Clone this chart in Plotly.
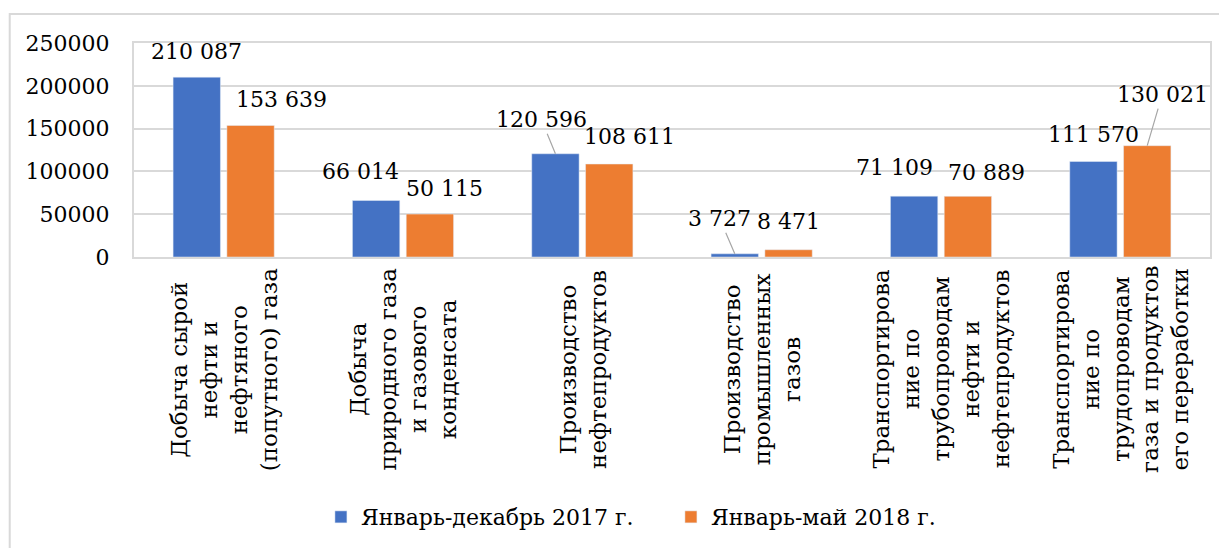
import plotly.graph_objects as go

categories = [
    "Добыча сырой<br>нефти и<br>нефтяного<br>(попутного) газа",
    "Добыча<br>природного газа<br>и газового<br>конденсата",
    "Производство<br>нефтепродуктов",
    "Производство<br>промышленных<br>газов",
    "Транспортирова<br>ние по<br>трубопроводам<br>нефти и<br>нефтепродуктов",
    "Транспортирова<br>ние по<br>трудопроводам<br>газа и продуктов<br>его переработки",
]
series_names = ["Январь-декабрь 2017 г.", "Январь-май 2018 г."]
values_2017 = [210087, 66014, 120596, 3727, 71109, 111570]
values_2018 = [153639, 50115, 108611, 8471, 70889, 130021]
y_ticks = [0, 50000, 100000, 150000, 200000, 250000]

# styling: label offsets (px) from bar top centre, and which use leader lines
off_2017 = [(0, 26), (-16, 29), (-14, 34), (-15, 35), (-20, 29), (0, 27)]
off_2018 = [(31, 26), (15, 26), (20, 28), (0, 28), (19, 24), (15, 51)]
lead_2017 = [False, False, True, True, False, False]
lead_2018 = [False, False, False, False, False, True]

BLUE = "#4472C4"
ORANGE = "#ED7D31"
GRID = "#d9d9d9"
FONT = "DejaVu Serif"
BARGAP = 0.40
BARGROUPGAP = 0.12

idx = list(range(len(categories)))

fig = go.Figure()
fig.add_trace(go.Bar(x=idx, y=values_2017, name=series_names[0], marker_color=BLUE))
fig.add_trace(go.Bar(x=idx, y=values_2018, name=series_names[1], marker_color=ORANGE))


def fmt(v):
    return f"{v:,}".replace(",", " ")


ann = []
half = (1 - BARGAP) / 4
for vals, offs, leads, sign in ((values_2017, off_2017, lead_2017, -1),
                                (values_2018, off_2018, lead_2018, 1)):
    for i, v in enumerate(vals):
        dx, dy = offs[i]
        xpos = i + sign * half
        if leads[i]:
            ann.append(dict(x=xpos, y=v, xref="x", yref="y", text=fmt(v),
                            showarrow=True, arrowhead=0, arrowwidth=1.2,
                            arrowcolor="#a6a6a6", standoff=0, ax=dx, ay=-dy,
                            font=dict(family=FONT, size=22, color="#000")))
        else:
            ann.append(dict(x=xpos, y=v, xref="x", yref="y", text=fmt(v),
                            showarrow=False, xshift=dx, yshift=dy,
                            xanchor="center", yanchor="middle",
                            font=dict(family=FONT, size=22, color="#000")))

for i, c in enumerate(categories):
    ann.append(dict(x=i, y=-0.526, xref="x", yref="paper", text=c,
                    showarrow=False, textangle=-90, align="center",
                    xanchor="center", yanchor="middle",
                    font=dict(family=FONT, size=23, color="#000")))

fig.update_layout(
    width=1219, height=540,
    margin=dict(l=126, r=17, t=35, b=290),
    paper_bgcolor="white", plot_bgcolor="white",
    barmode="group", bargap=BARGAP, bargroupgap=BARGROUPGAP,
    font=dict(family=FONT, color="#000"),
    annotations=ann,
    showlegend=True,
    legend=dict(orientation="h", x=0.499, xanchor="center", y=-1.205, yanchor="middle",
                entrywidth=305, entrywidthmode="pixels",
                font=dict(family=FONT, size=22, color="#000"), traceorder="normal"),
    shapes=[
        dict(type="rect", xref="paper", yref="paper", x0=-0.1155, x1=1.03, y0=-1.45, y1=1.135,
             line=dict(color=GRID, width=2), layer="below"),
    ],
)
fig.update_xaxes(range=[-0.5, 5.5], showticklabels=False, showgrid=False,
                 showline=True, mirror=True, linecolor=GRID, linewidth=2,
                 tickvals=idx, ticks="")
fig.update_yaxes(range=[0, 250000], tickvals=y_ticks, tickformat="d",
                 showgrid=True, gridcolor=GRID, gridwidth=2,
                 showline=True, mirror=True, linecolor=GRID, linewidth=2,
                 zeroline=False, ticks="", ticklabelstandoff=18,
                 tickfont=dict(family=FONT, size=22, color="#000"))

fig.write_html("out.html")
